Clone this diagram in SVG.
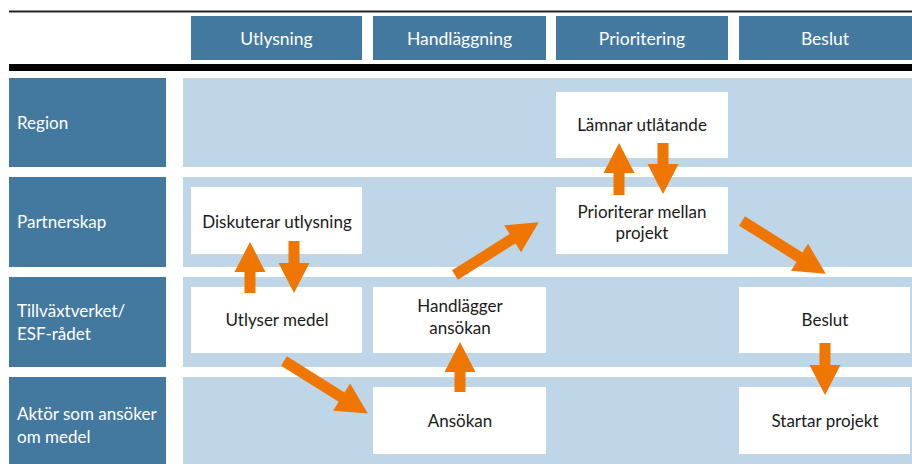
<svg xmlns="http://www.w3.org/2000/svg" xmlns:xlink="http://www.w3.org/1999/xlink" width="912" height="464" viewBox="0 0 912 464">
<style>
.hdr{fill:#44799f}
.band{fill:#bed6e8}
.box{fill:#ffffff}
.lbl{font-family:Lato,"Open Sans","Liberation Sans",sans-serif;font-size:17px;fill:#ffffff}
.htx{font-size:17.5px}
.txt{font-family:Lato,"Open Sans","Liberation Sans",sans-serif;font-size:17px;fill:#1a1a1a;text-anchor:middle}
.arrow{fill:#ef7601}
</style>
<defs>
<path id="diag" d="M0,-5.5 L68,-5.5 L68,-16 L99,0 L68,16 L68,5.5 L0,5.5 Z"/>
</defs>
<rect width="912" height="464" fill="#ffffff"/>
<line x1="9" y1="11.5" x2="912" y2="11.5" stroke="#222" stroke-width="2"/>
<rect x="9" y="64" width="903" height="7" fill="#000"/>

<g id="headers">
<g id="h-utlysning"><rect class="hdr" x="191" y="16" width="171" height="44"/><text class="lbl htx" x="276.5" y="45" text-anchor="middle">Utlysning</text></g>
<g id="h-handlaggning"><rect class="hdr" x="373" y="16" width="173" height="44"/><text class="lbl htx" x="459.5" y="45" text-anchor="middle">Handläggning</text></g>
<g id="h-prioritering"><rect class="hdr" x="556" y="16" width="172" height="44"/><text class="lbl htx" x="642" y="45" text-anchor="middle">Prioritering</text></g>
<g id="h-beslut"><rect class="hdr" x="739" y="16" width="173" height="44"/><text class="lbl htx" x="825" y="45" text-anchor="middle">Beslut</text></g>
</g>

<g id="rows">
<g id="row-region"><rect class="hdr" x="9" y="78" width="157" height="89"/><rect class="band" x="183" y="78" width="729" height="89"/><text class="lbl" x="17" y="129">Region</text></g>
<g id="row-partnerskap"><rect class="hdr" x="9" y="177" width="157" height="90"/><rect class="band" x="183" y="177" width="729" height="90"/><text class="lbl" x="17" y="228">Partnerskap</text></g>
<g id="row-tillvaxt"><rect class="hdr" x="9" y="277" width="157" height="90"/><rect class="band" x="183" y="277" width="729" height="90"/><text class="lbl" x="17" y="317">Tillväxtverket/</text><text class="lbl" x="17" y="340">ESF-rådet</text></g>
<g id="row-aktor"><rect class="hdr" x="9" y="377" width="157" height="87"/><rect class="band" x="183" y="377" width="729" height="87"/><text class="lbl" x="17" y="420">Aktör som ansöker</text><text class="lbl" x="17" y="443">om medel</text></g>
</g>

<g id="n-lamnar"><rect class="box" x="556" y="92" width="172" height="66"/><text class="txt" x="642" y="131">Lämnar utlåtande</text></g>
<g id="n-diskuterar"><rect class="box" x="191" y="187" width="171" height="67"/><text class="txt" x="277" y="228">Diskuterar utlysning</text></g>
<g id="n-prioriterar"><rect class="box" x="556" y="187" width="172" height="67"/><text class="txt" x="642" y="218">Prioriterar mellan</text><text class="txt" x="642" y="239">projekt</text></g>
<g id="n-utlyser"><rect class="box" x="191" y="287" width="171" height="66"/><text class="txt" x="277" y="326">Utlyser medel</text></g>
<g id="n-handlagger"><rect class="box" x="373" y="287" width="173" height="66"/><text class="txt" x="460" y="312">Handlägger</text><text class="txt" x="460" y="334">ansökan</text></g>
<g id="n-beslut"><rect class="box" x="739" y="287" width="171" height="66"/><text class="txt" x="825" y="326">Beslut</text></g>
<g id="n-ansokan"><rect class="box" x="373" y="387" width="173" height="67"/><text class="txt" x="460" y="427">Ansökan</text></g>
<g id="n-startar"><rect class="box" x="739" y="387" width="171" height="67"/><text class="txt" x="825" y="427">Startar projekt</text></g>

<g id="connectors" class="arrow">
<path d="M250,242 L265.5,272 L255.5,272 L255.5,293 L244.5,293 L244.5,272 L234.5,272 Z"/>
<path d="M288.5,241 L299.5,241 L299.5,263 L309.5,263 L294,293 L278.5,263 L288.5,263 Z"/>
<path d="M619,143 L634.5,173 L624.5,173 L624.5,195 L613.5,195 L613.5,173 L603.5,173 Z"/>
<path d="M657.5,143 L668.5,143 L668.5,164 L678.5,164 L663,194 L647.5,164 L657.5,164 Z"/>
<path d="M460,342 L475.5,372 L465.5,372 L465.5,392 L454.5,392 L454.5,372 L444.5,372 Z"/>
<path d="M819.5,343 L830.5,343 L830.5,365 L840.5,365 L825,395 L809.5,365 L819.5,365 Z"/>
<use xlink:href="#diag" transform="translate(284,361) rotate(32.1)"/>
<use xlink:href="#diag" transform="translate(455,275) rotate(-32.2)"/>
<use xlink:href="#diag" transform="translate(742,221) rotate(32.2)"/>
</g>
</svg>
